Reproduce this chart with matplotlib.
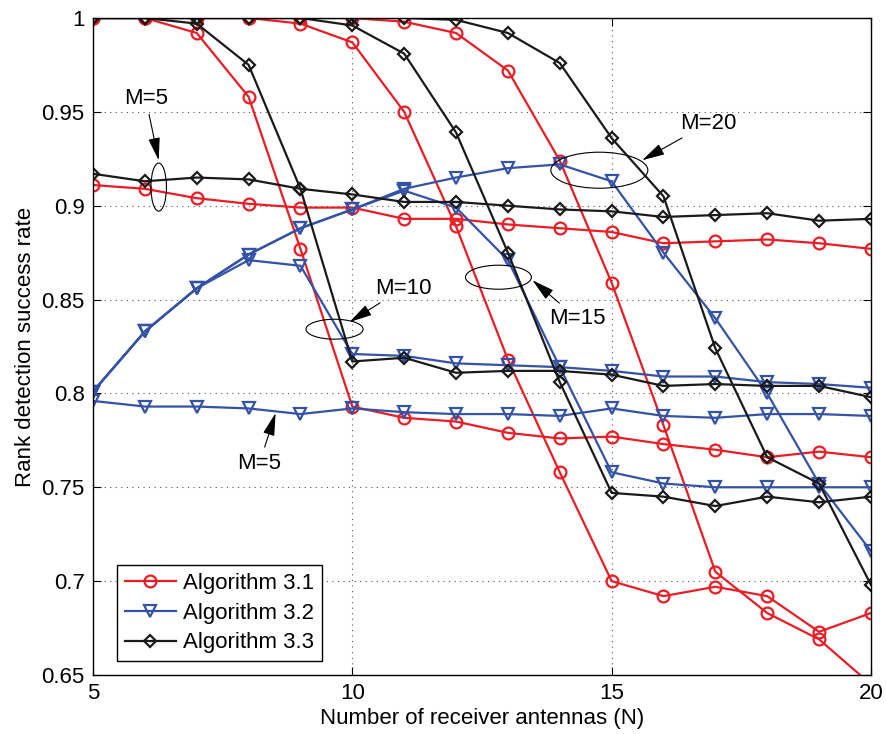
####### import headers #######
import matplotlib
matplotlib.use('Agg')
import matplotlib.pyplot as plt
from matplotlib.patches import Ellipse

####### data #######
N = [5, 6, 7, 8, 9, 10, 11, 12, 13, 14, 15, 16, 17, 18, 19, 20]  # receiver antennas

# Algorithm 3.1 (red, circles)
alg31_m5 = [0.911, 0.909, 0.904, 0.901, 0.899, 0.899, 0.893, 0.893, 0.890, 0.888, 0.886, 0.880, 0.881, 0.882, 0.880, 0.877]
alg31_m10 = [1.000, 1.000, 0.992, 0.958, 0.877, 0.793, 0.787, 0.785, 0.779, 0.776, 0.777, 0.773, 0.770, 0.766, 0.769, 0.766]
alg31_m15 = [1.000, 1.000, 1.000, 1.000, 0.997, 0.987, 0.950, 0.889, 0.818, 0.758, 0.700, 0.692, 0.697, 0.692, 0.673, 0.683]
alg31_m20 = [1.000, 1.000, 1.000, 1.000, 1.000, 1.000, 0.998, 0.992, 0.972, 0.924, 0.859, 0.783, 0.705, 0.683, 0.669, 0.645]

# Algorithm 3.2 (blue, triangles)
alg32_m5 = [0.796, 0.793, 0.793, 0.792, 0.789, 0.792, 0.790, 0.789, 0.789, 0.788, 0.792, 0.788, 0.787, 0.789, 0.789, 0.788]
alg32_m10 = [0.801, 0.833, 0.856, 0.871, 0.868, 0.821, 0.820, 0.816, 0.815, 0.814, 0.812, 0.809, 0.809, 0.806, 0.805, 0.803]
alg32_m15 = [0.801, 0.833, 0.856, 0.874, 0.888, 0.898, 0.908, 0.899, 0.871, 0.814, 0.758, 0.752, 0.750, 0.750, 0.750, 0.750]
alg32_m20 = [0.801, 0.833, 0.856, 0.874, 0.888, 0.898, 0.909, 0.915, 0.920, 0.922, 0.913, 0.875, 0.840, 0.800, 0.752, 0.716]

# Algorithm 3.3 (black, diamonds)
alg33_m5 = [0.917, 0.913, 0.915, 0.914, 0.909, 0.906, 0.902, 0.902, 0.900, 0.898, 0.897, 0.894, 0.895, 0.896, 0.892, 0.893]
alg33_m10 = [1.000, 1.000, 0.997, 0.975, 0.909, 0.817, 0.819, 0.811, 0.812, 0.812, 0.810, 0.804, 0.805, 0.804, 0.804, 0.798]
alg33_m15 = [1.000, 1.000, 1.000, 1.000, 1.000, 0.996, 0.981, 0.939, 0.875, 0.806, 0.747, 0.745, 0.740, 0.745, 0.742, 0.745]
alg33_m20 = [1.000, 1.000, 1.000, 1.000, 1.000, 1.000, 1.000, 0.999, 0.992, 0.976, 0.936, 0.905, 0.824, 0.766, 0.752, 0.698]

legend_labels = ['Algorithm 3.1', 'Algorithm 3.2', 'Algorithm 3.3']
y_ticks = [0.65, 0.7, 0.75, 0.8, 0.85, 0.9, 0.95, 1.0]
y_tick_labels = ['0.65', '0.7', '0.75', '0.8', '0.85', '0.9', '0.95', '1']
x_ticks = [5, 10, 15, 20]


def main():
    plt.rcParams['font.family'] = ['Liberation Sans', 'DejaVu Sans']
    plt.rcParams['font.size'] = 16

    red = '#ec1c24'
    blue = '#3352a8'
    black = '#1a1a1a'

    fig = plt.figure(figsize=(8.86, 7.34), dpi=100)
    ax = fig.add_axes([0.105, 0.0804, 0.878, 0.8951])

    styles = [
        (red, 'o', 8.5, [alg31_m5, alg31_m10, alg31_m15, alg31_m20]),
        (blue, 'v', 8.5, [alg32_m5, alg32_m10, alg32_m15, alg32_m20]),
        (black, 'D', 6.5, [alg33_m5, alg33_m10, alg33_m15, alg33_m20]),
    ]
    handles = []
    for color, marker, ms, curves in styles:
        for yy in curves:
            h, = ax.plot(N, yy, color=color, marker=marker, ms=ms, mfc='none',
                         mec=color, mew=1.6, lw=1.6)
        handles.append(h)

    # ellipses grouping the curves
    for cx, cy, w, h in [(6.266, 0.9099, 0.30, 0.0256),
                         (9.657, 0.8342, 1.10, 0.0106),
                         (12.817, 0.8619, 1.27, 0.0128),
                         (14.763, 0.9189, 1.87, 0.0192)]:
        ax.add_patch(Ellipse((cx, cy), w, h, fill=False, lw=0.8, ec='k', zorder=5))

    arrow = dict(arrowstyle='-|>,head_length=0.7,head_width=0.18', color='k',
                 lw=0.8, mutation_scale=20, shrinkA=2, shrinkB=0)
    notes = [('M=5', (6.266, 0.9242), (6.015, 0.9572)),
             ('M=10', (9.946, 0.8380), (10.985, 0.8561)),
             ('M=15', (13.472, 0.8603), (14.336, 0.8401)),
             ('M=20', (15.588, 0.9242), (16.86, 0.9439)),
             ('M=5', (8.52, 0.7895), (8.211, 0.7629))]
    for txt, head, pos in notes:
        ax.annotate(txt, xy=head, xytext=pos, ha='center', va='center',
                    fontsize=16, arrowprops=arrow, zorder=6)

    ax.set_xlim(5, 20)
    ax.set_ylim(0.65, 1.0)
    ax.set_xticks(x_ticks)
    ax.set_yticks(y_ticks)
    ax.set_yticklabels(y_tick_labels)
    ax.tick_params(direction='in', top=True, right=True, length=6, width=0.8,
                   labelsize=16, pad=6)
    ax.grid(True, linestyle=(0, (1, 4)), color='#555555', lw=0.8)
    for sp in ax.spines.values():
        sp.set_linewidth(1.0)

    ax.set_xlabel('Number of receiver antennas (N)', fontsize=16, labelpad=3)
    ax.set_ylabel('Rank detection success rate', fontsize=16, labelpad=4)

    leg = ax.legend(handles, legend_labels, loc='lower left', bbox_to_anchor=(0.031, 0.021),
                    borderaxespad=0, fancybox=False, edgecolor='k', framealpha=1, fontsize=16,
                    handlelength=2.3, numpoints=1, borderpad=0.35, labelspacing=0.4,
                    handletextpad=0.3)
    leg.get_frame().set_linewidth(1.0)

    fig.savefig('out.png', dpi=100)


if __name__ == '__main__':
    main()
